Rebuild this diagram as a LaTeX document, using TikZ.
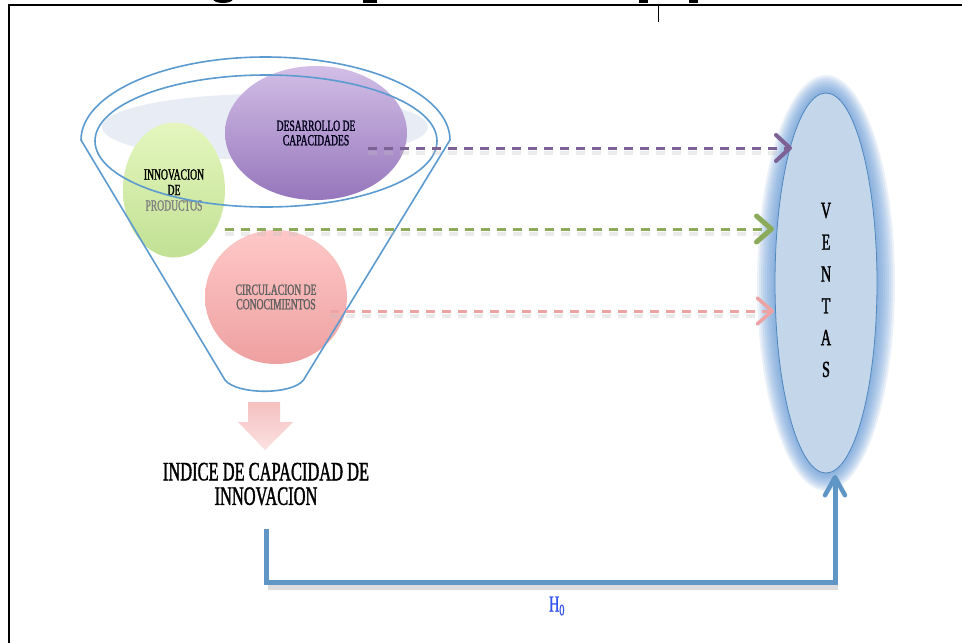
\documentclass[tikz,border=0pt]{standalone}
\usepackage{fontspec}
\setmainfont{Liberation Serif}
\newfontfamily\cf[FakeStretch=0.62,FakeBold=1.3]{Liberation Serif}
\usetikzlibrary{arrows.meta,shapes.geometric}
\definecolor{funnelblue}{HTML}{5B9BD0}
\definecolor{liq}{HTML}{E8EDF5}
\definecolor{purpline}{HTML}{7B6194}
\definecolor{greenline}{HTML}{8BAA5A}
\definecolor{pinkline}{HTML}{EDA3A3}
\definecolor{connblue}{HTML}{6096C6}
\definecolor{ventfill}{HTML}{C4D7EA}
\definecolor{ventdraw}{HTML}{4F87BF}
\definecolor{glow}{HTML}{5F94D4}
\definecolor{hblue}{HTML}{3355EE}
\tikzset{
  blob/.style={ellipse, inner sep=0pt, draw=none, align=center},
  lbl/.style={font=\cf\fontsize{15.5}{14.5}\selectfont},
  funnel/.style={draw=funnelblue, line width=1.6pt},
  darrow/.style={dash pattern=on 9pt off 7pt, line width=3pt,
     -{Straight Barb[length=14pt,width=26pt,round]}},
  dshadow/.style={dash pattern=on 9pt off 7pt, line width=3.5pt, black!25, opacity=0.3},
  conn/.style={draw=connblue, line width=5pt, line join=miter,
     -{Straight Barb[length=18pt,width=20pt,round,line width=4.5pt]}},
}
\begin{document}
\begin{tikzpicture}[x=1pt,y=-1pt]
\useasboundingbox (0,0) rectangle (962,643);
\fill[white] (0,0) rectangle (962,643);

% cut-off glyph fragments at the top edge
\fill[black] (223,-1) ellipse (10 and 4);
\fill[black] (363,0) rectangle (377,2.5);
\fill[black] (639,0) rectangle (648,2.5);
\fill[black] (689,0) rectangle (698,2.5);

% frame
\draw[line width=2.5pt] (9,643) -- (9,5) -- (962,5);
\draw[line width=0.8pt] (658,5) -- (658,22);

% liquid ellipse in funnel
\fill[liq] (265,127) ellipse (163 and 33);

% coloured ellipses
\node[blob, minimum width=102pt, minimum height=135pt, top color={rgb,255:red,228;green,246;blue,190}, bottom color={rgb,255:red,194;green,225;blue,148}, lbl, font=\cf\fontsize{15.5}{15.5}\selectfont] (innov) at (174,190)
  {INNOVACION\\DE\\{\color{black!50}PRODUCTOS}};
\node[blob, minimum width=182pt, minimum height=134pt, top color={rgb,255:red,210;green,190;blue,230}, bottom color={rgb,255:red,150;green,118;blue,188}, lbl, text=black!90!blue] (desar) at (316,133)
  {DESARROLLO DE\\CAPACIDADES};
\node[blob, minimum width=142pt, minimum height=134pt, top color={rgb,255:red,255;green,200;blue,200}, bottom color={rgb,255:red,238;green,160;blue,160}, lbl, text=black!62] (circ) at (276,297)
  {CIRCULACION DE\\CONOCIMIENTOS};

% funnel outline
\draw[funnel] (81,140) arc[start angle=180, end angle=360, x radius=184.5, y radius=83]
  -- (303.5,380) .. controls (292,395) and (237,395) .. (225,380) -- cycle;
\draw[funnel] (266,141) ellipse (171 and 66);

% down arrow
\shade[top color={rgb,255:red,245;green,192;blue,192}, bottom color={rgb,255:red,251;green,225;blue,225}]
  (248,402) -- (280,402) -- (280,422) -- (293,422) -- (265,450) -- (238,422) -- (248,422) -- cycle;

% ventas glow and ellipse
\foreach \k in {18,16,...,2}
  \fill[glow, opacity=0.12] (826,283) ellipse ({51+\k} and {190+\k});
\node[ellipse, inner sep=0pt, minimum width=102pt, minimum height=380pt, fill=ventfill, draw=ventdraw, line width=0.8pt] (ventas) at (826,283) {};
\node[font=\cf\fontsize{23}{31.8}\selectfont, align=center] (vtxt) at (826,290) {V\\E\\N\\T\\A\\S};

% index text
\node[font=\cf\fontsize{26.5}{24.5}\selectfont, align=center] (indice) at (266,484)
  {INDICE DE CAPACIDAD DE\\INNOVACION};

% dashed arrows
\coordinate (p1) at (368,148); \coordinate (p2) at (792,148);
\coordinate (g1) at (225,229); \coordinate (g2) at (774,229);
\coordinate (r1) at (330,311); \coordinate (r2) at (774,311);
\draw[dshadow] ([yshift=-5]p1) -- ([xshift=-14,yshift=-5]p2);
\draw[dshadow] ([yshift=-5]g1) -- ([xshift=-14,yshift=-5]g2);
\draw[dshadow] ([yshift=-5]r1) -- ([xshift=-14,yshift=-5]r2);
\draw[darrow, purpline, -{Straight Barb[length=14pt,width=26pt,round,line width=4pt]}] (p1) -- (p2);
\draw[darrow, greenline, -{Straight Barb[length=15pt,width=26pt,round,line width=5pt]}] (g1) -- (g2);
\draw[darrow, pinkline, -{Straight Barb[length=15pt,width=26pt,round,line width=3.5pt]}] (r1) -- (r2);

% bottom connector
\coordinate (c1) at (266,529);
\coordinate (c2) at (835,475);
\draw[black!30, opacity=0.45, line width=5pt] (268,587) -- (838,587);
\draw[conn] (c1) -- (266,582) -| (c2);
\node[font=\cf\fontsize{23}{23}\selectfont, text=hblue] (h0) at (557,606) {H\textsubscript{0}};
\end{tikzpicture}
\end{document}
